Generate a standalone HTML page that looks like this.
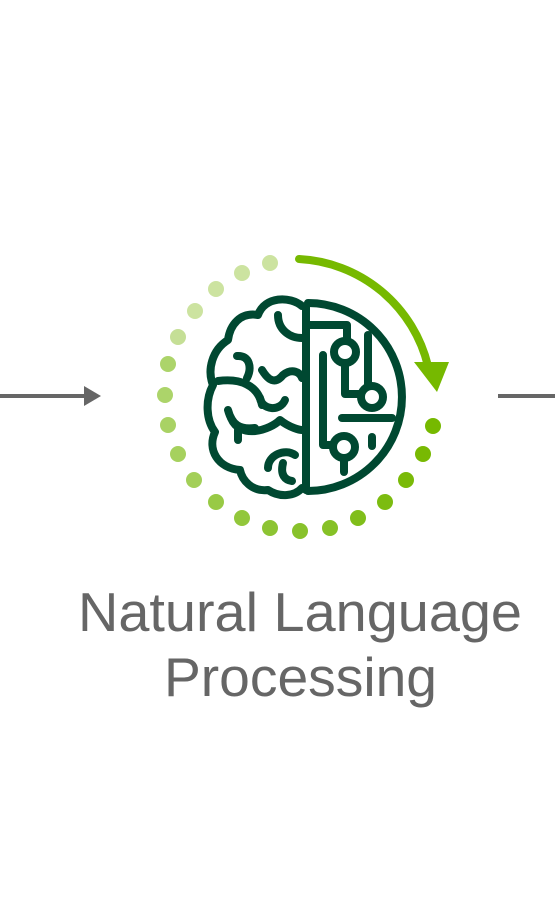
<!DOCTYPE html>
<html><head><meta charset="utf-8"><style>
html,body{margin:0;padding:0;background:#fff;width:555px;height:902px;overflow:hidden}
</style></head><body>
<svg width="555" height="902" viewBox="0 0 555 902" xmlns="http://www.w3.org/2000/svg">
<line x1="0" y1="396" x2="88" y2="396" stroke="#666" stroke-width="4"/>
<polygon points="101,396 84,386 84,406" fill="#666"/>
<line x1="498" y1="396" x2="555" y2="396" stroke="#666" stroke-width="4"/>
<g>
<circle cx="270" cy="263" r="8" fill="#cce3a0"/>
<circle cx="242" cy="273" r="8" fill="#cce3a0"/>
<circle cx="216" cy="289" r="8" fill="#cce3a0"/>
<circle cx="195" cy="311" r="8" fill="#cce3a0"/>
<circle cx="178" cy="337" r="8" fill="#c5df96"/>
<circle cx="168" cy="364" r="8" fill="#acd46a"/>
<circle cx="165" cy="395" r="8" fill="#acd46a"/>
<circle cx="168" cy="425" r="8" fill="#a9d264"/>
<circle cx="178" cy="454" r="8" fill="#a6d15e"/>
<circle cx="194" cy="480" r="8" fill="#a3cf58"/>
<circle cx="216" cy="502" r="8" fill="#98ca45"/>
<circle cx="242" cy="518" r="8" fill="#92c73b"/>
<circle cx="270" cy="528" r="8" fill="#8dc433"/>
<circle cx="300" cy="531" r="8" fill="#88c22b"/>
<circle cx="330" cy="528" r="8" fill="#86c126"/>
<circle cx="358" cy="518" r="8" fill="#80be1a"/>
<circle cx="385" cy="502" r="8" fill="#7cbc10"/>
<circle cx="406" cy="480" r="8" fill="#7aba08"/>
<circle cx="423" cy="454" r="8" fill="#78b902"/>
<circle cx="433" cy="426" r="8" fill="#76b900"/>
</g>
<path d="M299,259 A140,140 0 0 1 428,366" fill="none" stroke="#76b900" stroke-width="8" stroke-linecap="round"/>
<polygon points="414,362 449,362 437,392" fill="#76b900"/>
<g fill="none" stroke="#004831" stroke-width="8" stroke-linecap="round" stroke-linejoin="round">
<path d="M308,303 A94,94 0 0 1 308,491"/>
<line x1="306" y1="306" x2="306" y2="490"/>
<path d="M310,325 L347,325 L347,340"/>
<circle cx="345" cy="352" r="11"/>
<path d="M345,363 L345,394 L361,394"/>
<circle cx="372" cy="397" r="11"/>
<line x1="368" y1="335" x2="368" y2="386"/>
<path d="M323,355 L323,445 L333,445"/>
<circle cx="344" cy="447" r="11"/>
<line x1="344" y1="458" x2="344" y2="472"/>
<line x1="342" y1="418" x2="392" y2="418"/>
<line x1="372" y1="437" x2="372" y2="446"/>
<path d="M302,306 C290,296 265,296 258,315 C240,312 230,325 228,340 C212,350 207,370 213,385 C205,400 206,420 215,432 C207,450 218,468 240,470 C242,480 252,492 268,490 C280,498 295,496 302,488"/>
<path d="M278,315 C278,330 290,338 302,338"/>
<path d="M218,381 C240,378 258,385 262,405"/>
<path d="M237,356 C250,355 252,368 247,378"/>
<path d="M262,370 C268,380 275,385 283,375 C292,368 300,372 302,378"/>
<path d="M260,398 C262,410 280,412 285,400"/>
<path d="M228,410 C232,425 240,430 255,428"/>
<path d="M231,418 C240,440 270,430 280,420 C290,428 300,430 302,430"/>
<path d="M238,430 L238,440"/>
<path d="M268,468 C268,455 285,448 295,455"/>
<path d="M283,463 C280,475 285,480 292,481"/>
</g>
<g fill="#666" font-family="'Liberation Sans', sans-serif" font-size="55">
<text x="78" y="631" textLength="444" lengthAdjust="spacingAndGlyphs">Natural Language</text>
<text x="164" y="696" textLength="273" lengthAdjust="spacingAndGlyphs">Processing</text>
</g>
</svg>
</body></html>
